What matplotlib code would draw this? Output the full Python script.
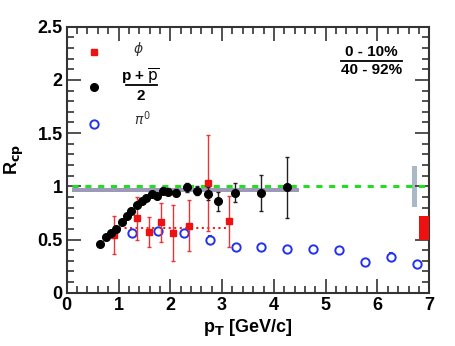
import numpy as np
import matplotlib
matplotlib.use('Agg')
import matplotlib.pyplot as plt
from matplotlib.ticker import MultipleLocator
from matplotlib.patches import Rectangle

plt.rcParams['font.family'] = ['Liberation Sans', 'DejaVu Sans']

# p + pbar / 2
pp_x = [0.64, 0.76, 0.86, 0.95, 1.06, 1.16, 1.25, 1.35, 1.45, 1.54, 1.65, 1.74,
        1.85, 1.96, 2.11, 2.32, 2.51, 2.72, 2.92, 3.25, 3.75, 4.25]
pp_y = [0.46, 0.52, 0.56, 0.60, 0.66, 0.72, 0.77, 0.82, 0.86, 0.89, 0.93, 0.91,
        0.96, 0.95, 0.94, 0.99, 0.96, 0.93, 0.86, 0.94, 0.94, 0.99]
pp_err = [0.01, 0.01, 0.01, 0.01, 0.01, 0.01, 0.01, 0.01, 0.01, 0.01, 0.02, 0.02,
          0.03, 0.03, 0.03, 0.04, 0.04, 0.06, 0.09, 0.09, 0.17, 0.29]

# phi
phi_x = [0.92, 1.35, 1.59, 1.82, 2.06, 2.36, 2.72, 3.14]
phi_y = [0.54, 0.70, 0.57, 0.66, 0.56, 0.63, 1.03, 0.67]
phi_err = [0.18, 0.20, 0.14, 0.18, 0.26, 0.24, 0.45, 0.24]

# pi0
pi_x = [1.26, 1.76, 2.27, 2.77, 3.26, 3.75, 4.25, 4.76, 5.26, 5.76, 6.26, 6.76]
pi_y = [0.56, 0.58, 0.56, 0.50, 0.43, 0.43, 0.41, 0.41, 0.40, 0.29, 0.34, 0.27]
pi_err = [0.03, 0.03, 0.03, 0.03, 0.03, 0.02, 0.02, 0.02, 0.02, 0.02, 0.03, 0.03]

phi_mean = 0.61

fig = plt.figure(figsize=(4.56, 3.46), dpi=100)
ax = fig.add_axes([66.7 / 456, 1 - 292.7 / 346, (429.3 - 66.7) / 456, (292.7 - 26.7) / 346])

# bands and reference line
ax.add_patch(Rectangle((0.1, 0.945), 4.39, 0.04, color='#9c9ab8', zorder=1, lw=0))
ax.plot([0.1, 7.0], [1.0, 1.0], ls=(0, (2, 2.2)), color='#22dd22', lw=2.2, zorder=2)
ax.add_patch(Rectangle((6.66, 0.81), 0.11, 0.38, color='#a9b9c6', zorder=1, lw=0))
ax.add_patch(Rectangle((6.81, 0.50), 0.19, 0.22, color='#ee1111', zorder=6, lw=0,
                       clip_on=False))
ax.plot([1.0, 3.09], [phi_mean, phi_mean], ls=':', color='#ee2222', lw=1.5, zorder=2)

ax.errorbar(phi_x, phi_y, yerr=phi_err, fmt='s', color='#ee1111', ms=5,
            ecolor='#ee3333', elinewidth=1, capsize=1.5, zorder=4)
ax.errorbar(pp_x, pp_y, yerr=pp_err, fmt='o', color='black', ms=5.5,
            ecolor='#222222', elinewidth=1, capsize=1.5, zorder=5)
ax.errorbar(pi_x, pi_y, yerr=pi_err, fmt='o', mfc='white', mec='#2233ee', mew=1.4,
            ms=6, ecolor='#2233ee', elinewidth=1, capsize=1.5, zorder=3)

# legend
ax.plot([0.53], [2.26], 's', color='#ee1111', ms=5)
ax.plot([0.53], [1.93], 'o', color='black', ms=5.5)
ax.plot([0.53], [1.59], 'o', mfc='white', mec='#2233ee', mew=1.4, ms=6)
ax.text(1.38, 2.29, r'$\phi$', fontsize=10, ha='center', va='center', color='#333333')
ax.text(1.42, 2.03, r'p + $\overline{\rm p}$', fontsize=11, fontweight='bold',
        ha='center', va='center')
ax.plot([1.14, 1.75], [1.95, 1.95], color='black', lw=1.3)
ax.text(1.42, 1.85, '2', fontsize=11, fontweight='bold', ha='center', va='center')
ax.text(1.45, 1.64, r'$\pi^0$', fontsize=10, ha='center', va='center', color='#333333')

ax.text(5.89, 2.26, '0 - 10%', fontsize=11, fontweight='bold', ha='center', va='center')
ax.plot([5.3, 6.48], [2.18, 2.18], color='black', lw=1.3)
ax.text(5.89, 2.09, '40 - 92%', fontsize=11, fontweight='bold', ha='center', va='center')

ax.set_xlim(0, 7)
ax.set_ylim(0, 2.5)
ax.xaxis.set_major_locator(MultipleLocator(1))
ax.xaxis.set_minor_locator(MultipleLocator(0.2))
ax.yaxis.set_major_locator(MultipleLocator(0.5))
ax.yaxis.set_minor_locator(MultipleLocator(0.1))
ax.set_xticks([0, 1, 2, 3, 4, 5, 6, 7])
ax.set_xticklabels(['0', '1', '2', '3', '4', '5', '6', '7'])
ax.set_yticks([0, 0.5, 1, 1.5, 2, 2.5])
ax.set_yticklabels(['0', '0.5', '1', '1.5', '2', '2.5'])
ax.tick_params(which='both', direction='in', top=True, right=True, width=1.2,
               color='#333333', labelsize=13, pad=3)
ax.tick_params(which='major', length=10)
ax.tick_params(which='minor', length=5)
for lab in ax.get_xticklabels() + ax.get_yticklabels():
    lab.set_fontweight('bold')
for s in ax.spines.values():
    s.set_linewidth(1.5)
    s.set_color('#333333')

ax.set_xlabel(r'p$_{\bf T}$ [GeV/c]', fontsize=13, fontweight='bold', labelpad=2)
ax.set_ylabel(r'R$_{\bf cp}$', fontsize=13, fontweight='bold', labelpad=8)

fig.savefig('out.png', dpi=100)
